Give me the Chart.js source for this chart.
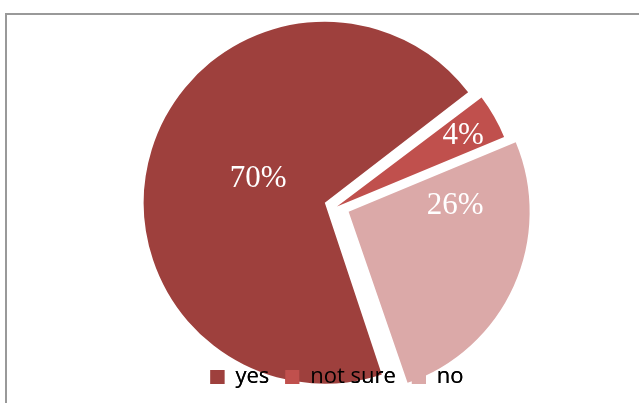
<!DOCTYPE html>
<html>
<head>
<meta charset="utf-8">
<script src="https://cdn.jsdelivr.net/npm/chart.js@4.4.1/dist/chart.umd.min.js"></script>
<style>
  html, body { margin: 0; padding: 0; background: #fff; overflow: hidden; }
  body { width: 639px; height: 403px; position: relative; }
  #frame {
    position: absolute; left: 5px; top: 13px; width: 700px; height: 420px;
    border-left: 2px solid #999; border-top: 2px solid #999;
  }
  #wrap { position: absolute; left: 8px; top: 16px; width: 658px; height: 382px; }
</style>
</head>
<body>
<div id="frame"></div>
<div id="wrap"><canvas id="pie"></canvas></div>
<script>
// answers and their shares in percent
const answers = ['yes', 'not sure', 'no'];
const shares = [70, 4, 26];

const sliceColors = ['#9e403d', '#c0504d', '#dba9a8'];
const explode = [51, 0, 51];
// where each percentage sits: fraction of radius, fraction along the slice
const labelRadius = [0.42, 0.80, 0.59];
const labelAlong = [0.51, 0.53, 0.21];

// keep exploded big slices at the same radius as the small ones
const keepRadius = {
    id: 'keepRadius',
    afterDatasetUpdate(chart, args) {
        const meta = chart.getDatasetMeta(args.index);
        meta.data.forEach(arc => {
            const circ = arc.endAngle - arc.startAngle;
            const off = (arc.options.offset || 0) / 4;
            const fix = 1 - Math.sin(Math.min(Math.PI, circ));
            arc.outerRadius -= off * fix;
        });
    }
};

// percentage text inside the slices, legend repainted on top of the pie
const sliceLabels = {
    id: 'sliceLabels',
    afterDatasetsDraw(chart) {
        const ctx = chart.ctx;
        const meta = chart.getDatasetMeta(0);
        ctx.save();
        ctx.fillStyle = '#ffffff';
        ctx.font = '31px "Liberation Serif", "Times New Roman", serif';
        ctx.textAlign = 'center';
        ctx.textBaseline = 'middle';
        meta.data.forEach((arc, i) => {
            const mid = (arc.startAngle + arc.endAngle) / 2;
            const off = (arc.options.offset || 0) / 4;
            const cx = arc.x + Math.cos(mid) * off;
            const cy = arc.y + Math.sin(mid) * off;
            const a = arc.startAngle + labelAlong[i] * (arc.endAngle - arc.startAngle);
            const r = arc.outerRadius * labelRadius[i];
            ctx.fillText(shares[i] + '%', cx + Math.cos(a) * r, cy + Math.sin(a) * r);
        });
        ctx.restore();
        if (chart.legend) chart.legend.draw();
    }
};

new Chart(document.getElementById('pie'), {
    type: 'pie',
    data: {
        labels: answers,
        datasets: [{
            data: shares,
            backgroundColor: sliceColors,
            borderWidth: 0,
            offset: explode,
            clip: false
        }]
    },
    options: {
        responsive: true,
        maintainAspectRatio: false,
        animation: false,
        rotation: 161,
        radius: 181,
        layout: { padding: { top: 47 } },
        plugins: {
            legend: {
                position: 'bottom',
                labels: {
                    color: '#000',
                    font: { family: '"Open Sans", sans-serif', size: 22 },
                    boxWidth: 14,
                    boxHeight: 14,
                    padding: 16
                }
            },
            tooltip: { enabled: false }
        }
    },
    plugins: [keepRadius, sliceLabels]
});
</script>
</body>
</html>
